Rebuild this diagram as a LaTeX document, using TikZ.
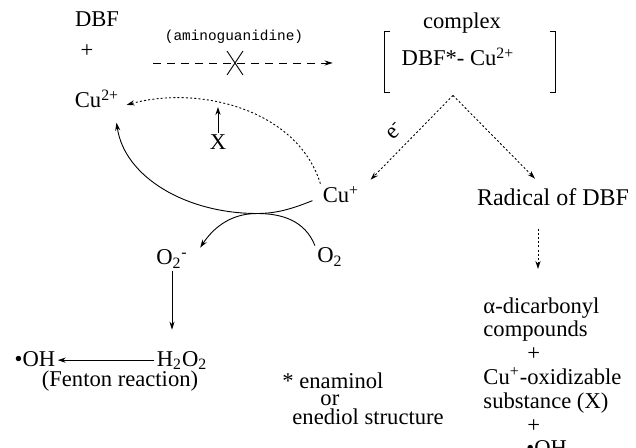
\documentclass[tikz,border=0pt]{standalone}
\usepackage{fontspec}
\setmainfont{Liberation Serif}
\setmonofont{Liberation Mono}
\usetikzlibrary{arrows.meta,shapes.misc}

\begin{document}
\begin{tikzpicture}[
    x=0.5pt, y=-0.5pt,
    line width=0.45pt,
    every node/.style={inner sep=1pt, font=\fontsize{11.3}{13}\selectfont},
    txt/.style={anchor=base},
    lefttxt/.style={anchor=base west},
    arr/.style={-{Stealth[length=4pt,width=2.6pt]}},
    dotline/.style={arr, dash pattern=on 1pt off 1.1pt},
    dashline/.style={arr, dash pattern=on 4pt off 3pt}
]
\useasboundingbox (0,0) rectangle (636,448);

% reactants and complex
\node (dbf) [txt] at (97,27) {DBF};
\node (plus) [txt] at (87,58) {+};
\node (cutwo) [txt] at (97,108) {Cu\textsuperscript{2+}};
\node (amino) [txt, font=\fontsize{7.2}{9}\ttfamily] at (234,41) {(aminoguanidine)};
\node (complex) [txt] at (462,29) {complex};
\node (dbfcu) [txt] at (458,66) {DBF*- Cu\textsuperscript{2+}};
\node (cplx) [minimum width=85pt, minimum height=30pt] at (470,62) {};
\draw ([xshift=2.5pt]cplx.north west) -- (cplx.north west) -- (cplx.south west) -- ++(5,0);
\draw ([xshift=-2.5pt]cplx.north east) -- (cplx.north east) -- (cplx.south east) -- ++(-5,0);

\coordinate (react) at (153,63);
\draw[dashline, shorten >=26pt] (react) -- (react -| cplx.west);
\node (block) [draw, cross out, inner sep=0pt, minimum width=7.5pt, minimum height=11.5pt] at (235,63) {};

% copy cycle
\node (cuplus) [txt] at (341,203) {Cu\textsuperscript{+}};
\node (xsub) [txt] at (218,150) {X};
\node (o2m) [txt] at (172,265) {O\textsubscript{2}\textsuperscript{-}};
\node (o2) [txt] at (330,263) {O\textsubscript{2}};
\coordinate (xhit) at (218,107);
\coordinate (touch) at (257,213.5);

\draw[dotline] (cuplus.north west) .. controls +(-23,-74) and +(73,-20) .. ([xshift=2.5pt,yshift=-3pt]cutwo.east);
\draw[arr] (xsub.north) -- (xhit);
\draw[arr] ([xshift=-4pt,yshift=-3pt]cuplus.west) .. controls +(-20,8) and +(20,0) .. (touch)
    .. controls +(-70,0) and +(8,55) .. ([xshift=-2.5pt,yshift=-6pt]cutwo.south east);
\draw[arr] (o2.north west) .. controls +(-10,-25) and +(25,0) .. (touch)
    .. controls +(-28,0) and +(12,-18) .. ([xshift=5pt]o2m.north east);

% oxygen side
\node (h2o2) [txt] at (182,366) {H\textsubscript{2}O\textsubscript{2}};
\node (oh) [txt] at (35,366) {\textbullet OH};
\node (fenton) [txt] at (120,386) {(Fenton reaction)};
\draw[arr] (o2m.south) -- ([yshift=9.5pt]o2m.south |- h2o2.north);
\draw[arr] (h2o2.west) -- (oh.east |- h2o2.west);

% DBF side
\coordinate (apex) at ([xshift=-8.5pt,yshift=-1.5pt]cplx.south);
\node (radical) [txt, font=\fontsize{12}{14}\selectfont] at (553,206) {Radical of DBF};
\node (prod) [anchor=north west, align=left, font=\fontsize{11.3}{11.9}\selectfont] at (481,295)
    {α-dicarbonyl\\compounds\\\hspace{22pt}+\\Cu\textsuperscript{+}-oxidizable\\substance (X)\\\hspace{22pt}+\\\hspace{21.5pt}\textbullet OH};
\draw[dotline] (apex) -- node[sloped, above=4pt, pos=0.56] {e\textsuperscript{-}} ([xshift=4.5pt,yshift=2pt]cuplus.north east);
\draw[dotline] (apex) -- ([xshift=-9pt,yshift=4pt]radical.north);
\draw[dotline, shorten <=10pt, shorten >=13pt] ([xshift=-7.5pt]radical.south) -- ([xshift=-7.5pt]radical.south |- prod.north);

% footnote
\node (note1) [lefttxt] at (280,388) {* enaminol};
\node (note2) [lefttxt] at (318,405) {or};
\node (note3) [lefttxt] at (290,424) {enediol structure};
\end{tikzpicture}
\end{document}
